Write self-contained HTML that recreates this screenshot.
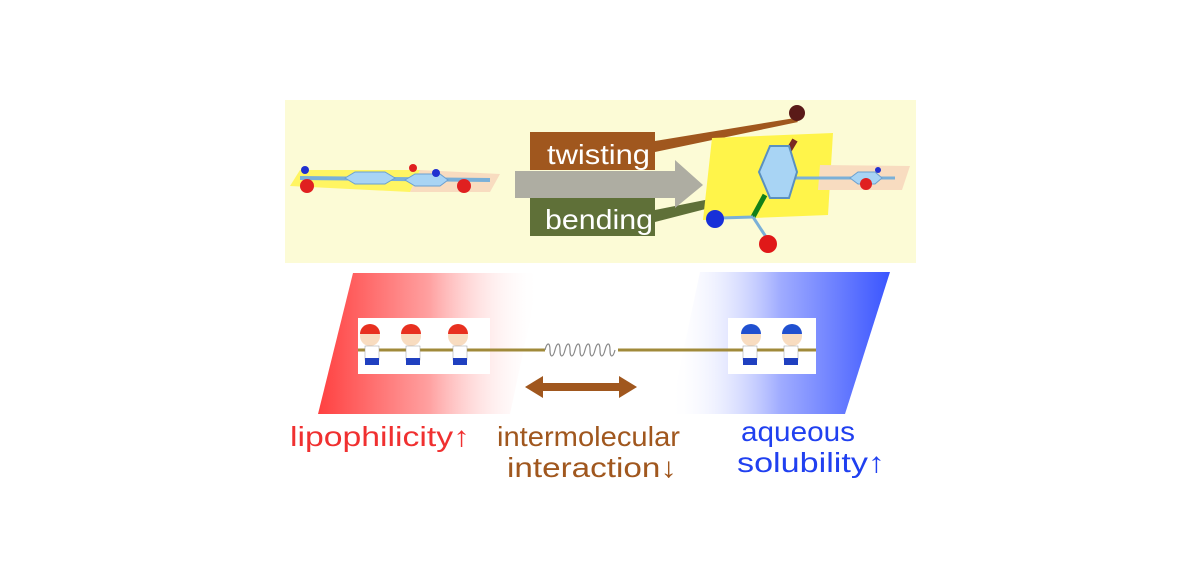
<!DOCTYPE html>
<html><head><style>body{margin:0;background:#fff}svg{display:block}</style></head><body>
<svg width="1200" height="574" viewBox="0 0 1200 574" xmlns="http://www.w3.org/2000/svg" font-family="Liberation Sans, sans-serif">
<defs>
<linearGradient id="rg" x1="0" x2="1"><stop offset="0" stop-color="#ff4040"/><stop offset="0.5" stop-color="#ffa0a0"/><stop offset="1" stop-color="#fff" stop-opacity="0"/></linearGradient>
<linearGradient id="bg" x1="1" x2="0"><stop offset="0" stop-color="#3a55ff"/><stop offset="0.5" stop-color="#a0acff"/><stop offset="1" stop-color="#fff" stop-opacity="0"/></linearGradient>
</defs>
<rect x="285" y="100" width="631" height="163" fill="#fcfbd6"/>
<!-- left molecule -->
<polygon points="290,186 300,170 420,170 410,192" fill="#fff455" opacity="0.9"/>
<polygon points="410,192 420,170 500,174 490,192" fill="#f8dcc0"/>
<line x1="300" y1="178" x2="490" y2="180" stroke="#7ab0d8" stroke-width="4"/>
<polygon points="345,178 355,172 385,172 395,178 385,184 355,184" fill="#a8d4f4" stroke="#6aa0d0"/>
<polygon points="405,180 415,174 440,174 448,180 440,186 415,186" fill="#a8d4f4" stroke="#6aa0d0"/>
<circle cx="307" cy="186" r="7" fill="#e02020"/><circle cx="305" cy="170" r="4" fill="#2030d0"/>
<circle cx="464" cy="186" r="7" fill="#e02020"/><circle cx="413" cy="168" r="4" fill="#e02020"/><circle cx="436" cy="173" r="4" fill="#2030d0"/>
<!-- twisting/bending -->
<polygon points="655,152 655,141 795,118 798,122" fill="#a0571e"/>
<polygon points="655,210 655,222 760,195 755,190" fill="#5f7038"/>
<rect x="530" y="132" width="125" height="38" fill="#a0571e"/>
<rect x="530" y="198" width="125" height="38" fill="#5f7038"/>
<polygon points="515,171 675,171 675,160 703,185 675,208 675,198 515,198" fill="#aeada2"/>
<text x="547" y="164" font-size="28" fill="#fff" textLength="103" lengthAdjust="spacingAndGlyphs">twisting</text>
<text x="545" y="229" font-size="28" fill="#fff" textLength="108" lengthAdjust="spacingAndGlyphs">bending</text>
<!-- right molecule -->
<polygon points="712,138 833,133 828,215 703,220" fill="#fff44a"/>
<polygon points="820,165 910,166 902,190 818,190" fill="#f8dcc0"/>
<line x1="795" y1="140" x2="783" y2="160" stroke="#7a2a22" stroke-width="6"/>
<circle cx="797" cy="113" r="8" fill="#5a1a18"/>
<line x1="795" y1="178" x2="895" y2="178" stroke="#7ab0d8" stroke-width="3"/>
<polygon points="850,178 858,172 875,172 882,178 875,184 858,184" fill="#a8d4f4" stroke="#6aa0d0"/>
<circle cx="866" cy="184" r="6" fill="#e02020"/><circle cx="878" cy="170" r="3" fill="#2030d0"/>
<line x1="765" y1="195" x2="753" y2="217" stroke="#128018" stroke-width="5"/>
<line x1="753" y1="217" x2="720" y2="218" stroke="#7ab0d8" stroke-width="3"/>
<line x1="753" y1="217" x2="768" y2="240" stroke="#7ab0d8" stroke-width="3"/>
<circle cx="715" cy="219" r="9" fill="#1830d8"/><circle cx="768" cy="244" r="9" fill="#e01818"/>
<polygon points="770,146 789,146 797,172 789,198 770,198 759,172" fill="#a8d4f4" stroke="#5a90c0" stroke-width="2"/>
<!-- gradients -->
<polygon points="353,273 540,273 510,414 318,414" fill="url(#rg)"/>
<polygon points="700,272 890,272 845,414 670,414" fill="url(#bg)"/>
<!-- kids strips -->
<rect x="358" y="318" width="132" height="56" fill="#fff"/>
<rect x="728" y="318" width="88" height="56" fill="#fff"/>
<line x1="358" y1="350" x2="545" y2="350" stroke="#a08a3a" stroke-width="3"/>
<line x1="618" y1="350" x2="816" y2="350" stroke="#a08a3a" stroke-width="3"/>
<path d="M545,350 c2,-8 5,-8 5,0 c0,8 3,8 5,0 c2,-8 5,-8 5,0 c0,8 3,8 5,0 c2,-8 5,-8 5,0 c0,8 3,8 5,0 c2,-8 5,-8 5,0 c0,8 3,8 5,0 c2,-8 5,-8 5,0 c0,8 3,8 5,0 c2,-8 5,-8 5,0 c0,8 3,8 5,0 c2,-8 5,-8 5,0 c0,8 3,8 5,0" fill="none" stroke="#888" stroke-width="1.2"/>
<g>
<g transform="translate(370,0)"><circle cx="0" cy="336" r="10" fill="#f8dcc0"/><path d="M-10,334 a10,10 0 0 1 20,0z" fill="#e83020"/><rect x="-5" y="346" width="14" height="14" fill="#fff" stroke="#999" stroke-width=".5"/><rect x="-5" y="358" width="14" height="7" fill="#2040c0"/></g>
<g transform="translate(411,0)"><circle cx="0" cy="336" r="10" fill="#f8dcc0"/><path d="M-10,334 a10,10 0 0 1 20,0z" fill="#e83020"/><rect x="-5" y="346" width="14" height="14" fill="#fff" stroke="#999" stroke-width=".5"/><rect x="-5" y="358" width="14" height="7" fill="#2040c0"/></g>
<g transform="translate(458,0)"><circle cx="0" cy="336" r="10" fill="#f8dcc0"/><path d="M-10,334 a10,10 0 0 1 20,0z" fill="#e83020"/><rect x="-5" y="346" width="14" height="14" fill="#fff" stroke="#999" stroke-width=".5"/><rect x="-5" y="358" width="14" height="7" fill="#2040c0"/></g>
<g transform="translate(751,0)"><circle cx="0" cy="336" r="10" fill="#f8dcc0"/><path d="M-10,334 a10,10 0 0 1 20,0z" fill="#2050d0"/><rect x="-8" y="346" width="14" height="14" fill="#fff" stroke="#999" stroke-width=".5"/><rect x="-8" y="358" width="14" height="7" fill="#2040c0"/></g>
<g transform="translate(792,0)"><circle cx="0" cy="336" r="10" fill="#f8dcc0"/><path d="M-10,334 a10,10 0 0 1 20,0z" fill="#2050d0"/><rect x="-8" y="346" width="14" height="14" fill="#fff" stroke="#999" stroke-width=".5"/><rect x="-8" y="358" width="14" height="7" fill="#2040c0"/></g>
</g>
<!-- double arrow -->
<polygon points="525,387 543,376 543,383 619,383 619,376 637,387 619,398 619,391 543,391 543,398" fill="#a0571e"/>
<!-- labels -->
<text x="290" y="446" font-size="28" fill="#f03030" textLength="180" lengthAdjust="spacingAndGlyphs">lipophilicity↑</text>
<text x="497" y="446" font-size="28" fill="#a0571e" textLength="183" lengthAdjust="spacingAndGlyphs">intermolecular</text>
<text x="507" y="477" font-size="28" fill="#a0571e" textLength="170" lengthAdjust="spacingAndGlyphs">interaction↓</text>
<text x="741" y="441" font-size="28" fill="#2040f0" textLength="114" lengthAdjust="spacingAndGlyphs">aqueous</text>
<text x="737" y="472" font-size="28" fill="#2040f0" textLength="148" lengthAdjust="spacingAndGlyphs">solubility↑</text>
</svg>
</body></html>
